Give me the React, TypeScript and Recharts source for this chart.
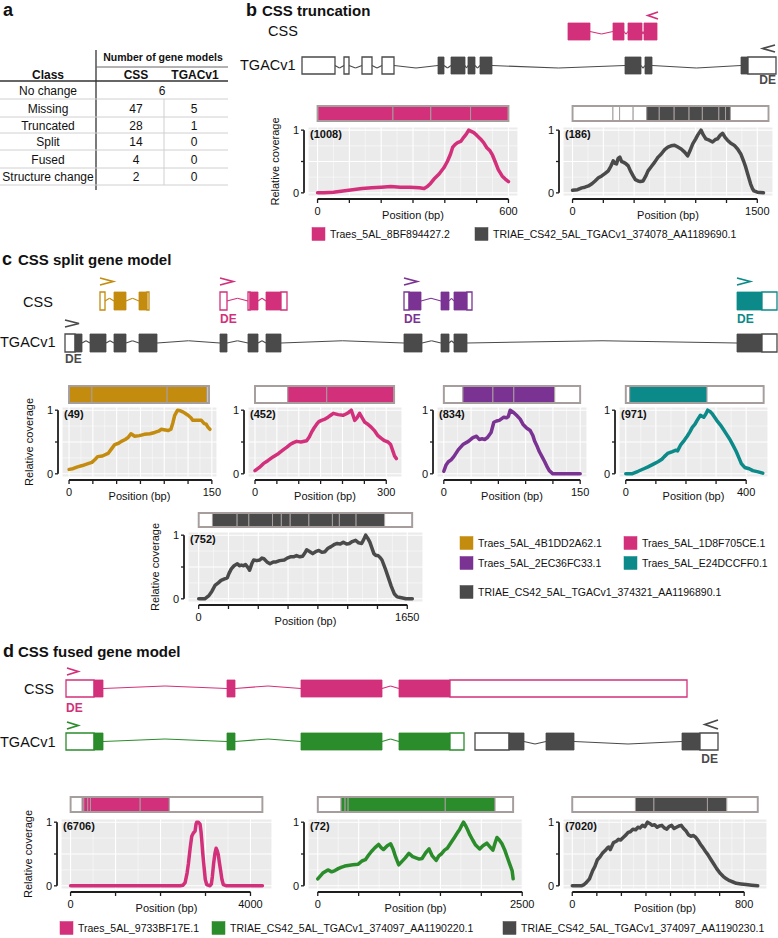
import React from 'react';
import { LineChart, Line, XAxis, YAxis, CartesianGrid, ReferenceLine, ReferenceArea } from 'recharts';

const FONT = '"Liberation Sans", Arial, Helvetica, sans-serif';
const PINK = '#D3307B';
const GOLD = '#C48C0E';
const PURPLE = '#7B3393';
const TEAL = '#0B8A89';
const GREY = '#4A4A4A';
const GREEN = '#2B8C2B';
const BAR_EDGE = '#A69D9D';
const AXIS = '#1E1E1E';

type Pt = [number, number];
type Seg = [number, number, number];

// ---------- panel a table ----------
const tableClasses = ['No change', 'Missing', 'Truncated', 'Split', 'Fused', 'Structure change'];
const tableCSS = ['6', '47', '28', '14', '4', '2'];
const tableTGAC = ['', '5', '1', '0', '0', '0'];

// ---------- coverage profiles (position bp, relative coverage) ----------
const covTruncCSS: Pt[] = [[0,0],[20,0],[50,0.01],[80,0.03],[110,0.05],[140,0.07],[170,0.08],[200,0.09],[230,0.1],[260,0.09],[290,0.09],[320,0.08],[335,0.07],[345,0.1],[355,0.15],[366,0.22],[382,0.3],[397,0.4],[408,0.5],[418,0.62],[425,0.73],[432,0.77],[440,0.8],[450,0.82],[460,0.89],[468,0.94],[475,1.0],[483,0.98],[491,0.96],[500,0.92],[512,0.86],[522,0.8],[532,0.72],[542,0.67],[550,0.6],[558,0.5],[568,0.37],[580,0.27],[590,0.22],[600,0.18]];
const covTruncTGAC: Pt[] = [[0,0.04],[40,0.05],[75,0.08],[100,0.09],[129,0.11],[160,0.15],[183,0.19],[210,0.24],[237,0.27],[265,0.31],[290,0.35],[310,0.42],[330,0.51],[345,0.47],[357,0.46],[370,0.55],[384,0.57],[398,0.5],[411,0.49],[430,0.47],[452,0.43],[470,0.35],[492,0.27],[510,0.21],[532,0.19],[550,0.18],[573,0.19],[595,0.27],[613,0.35],[640,0.42],[667,0.49],[695,0.57],[720,0.62],[748,0.69],[774,0.73],[800,0.75],[828,0.76],[855,0.73],[882,0.7],[910,0.65],[935,0.59],[955,0.68],[976,0.78],[1000,0.86],[1016,0.92],[1043,1.0],[1063,0.92],[1083,0.86],[1110,0.84],[1137,0.81],[1160,0.85],[1177,0.86],[1200,0.92],[1218,0.95],[1240,0.88],[1258,0.84],[1285,0.79],[1312,0.76],[1340,0.7],[1366,0.62],[1390,0.5],[1406,0.41],[1425,0.28],[1446,0.14],[1460,0.07],[1473,0.03],[1500,0.01],[1550,0]];
const covSplitGold: Pt[] = [[0,0.07],[4,0.08],[9,0.11],[14,0.13],[20,0.16],[24,0.18],[27,0.22],[30,0.27],[35,0.28],[41,0.32],[45,0.4],[48,0.46],[52,0.48],[55,0.51],[59,0.54],[62,0.57],[65,0.63],[69,0.59],[74,0.6],[79,0.62],[85,0.63],[90,0.65],[94,0.67],[97,0.7],[101,0.69],[104,0.68],[107,0.7],[109,0.8],[111,0.92],[114,1.0],[117,0.99],[120,0.97],[123,0.94],[125,0.92],[128,0.88],[130,0.84],[135,0.84],[139,0.84],[142,0.79],[144,0.78],[146,0.73],[148,0.7]];
const covSplitPink: Pt[] = [[0,0.05],[10,0.1],[19,0.16],[30,0.21],[42,0.27],[54,0.32],[65,0.38],[73,0.42],[80,0.46],[88,0.49],[95,0.51],[105,0.5],[118,0.52],[124,0.58],[129,0.65],[135,0.72],[141,0.78],[146,0.82],[152,0.84],[160,0.86],[167,0.89],[173,0.92],[179,0.95],[190,0.93],[201,0.92],[208,0.94],[213,0.96],[217,0.98],[220,1.0],[224,0.92],[228,0.84],[233,0.88],[239,0.95],[245,0.88],[251,0.81],[258,0.78],[266,0.73],[274,0.67],[281,0.6],[288,0.56],[296,0.52],[304,0.5],[310,0.46],[315,0.36],[319,0.28],[323,0.24]];
const covSplitPurple: Pt[] = [[0,0.04],[2.5,0.14],[5,0.19],[8,0.22],[11,0.27],[16,0.38],[21,0.46],[27,0.51],[32,0.57],[36,0.59],[39,0.54],[42,0.55],[45,0.54],[48,0.57],[52,0.65],[55,0.81],[58,0.83],[61,0.84],[66,0.89],[69,0.88],[71,0.9],[73,1.0],[77,0.96],[80,0.92],[84,0.86],[87,0.78],[91,0.72],[95,0.68],[98,0.6],[100,0.51],[103,0.42],[105,0.35],[108,0.27],[111,0.19],[114,0.1],[116,0.05],[120,0],[135,0],[150,0]];
const covSplitTeal: Pt[] = [[0,0],[20,0],[41,0.04],[60,0.08],[74,0.11],[95,0.16],[107,0.19],[120,0.23],[128,0.27],[139,0.32],[155,0.35],[165,0.37],[172,0.36],[183,0.46],[195,0.53],[204,0.59],[213,0.66],[221,0.73],[230,0.78],[237,0.84],[248,0.92],[259,0.89],[266,0.94],[272,1.0],[280,0.98],[286,0.95],[302,0.84],[314,0.77],[324,0.7],[335,0.62],[346,0.54],[356,0.45],[367,0.35],[376,0.25],[384,0.16],[395,0.1],[410,0.08],[422,0.05],[440,0.03],[455,0.01]];
const covSplitTGAC: Pt[] = [[0,0],[48,0],[81,0.05],[105,0.12],[129,0.21],[155,0.25],[177,0.29],[200,0.31],[226,0.33],[240,0.4],[258,0.47],[280,0.52],[306,0.55],[322,0.52],[338,0.53],[355,0.52],[371,0.54],[390,0.49],[403,0.45],[420,0.55],[435,0.61],[460,0.6],[483,0.61],[500,0.64],[516,0.63],[540,0.58],[564,0.55],[590,0.58],[612,0.58],[640,0.6],[677,0.61],[700,0.64],[725,0.66],[750,0.66],[774,0.68],[800,0.66],[822,0.67],[840,0.72],[854,0.77],[880,0.74],[902,0.71],[925,0.74],[951,0.76],[975,0.73],[999,0.74],[1020,0.79],[1047,0.82],[1070,0.85],[1096,0.87],[1120,0.86],[1144,0.89],[1170,0.86],[1192,0.87],[1215,0.9],[1241,0.92],[1265,0.88],[1289,0.87],[1305,0.93],[1321,1.0],[1338,0.95],[1354,0.89],[1370,0.8],[1386,0.71],[1402,0.68],[1418,0.68],[1435,0.65],[1450,0.61],[1475,0.48],[1499,0.34],[1523,0.2],[1547,0.08],[1570,0.03],[1595,0.02],[1640,0],[1690,0]];
const covFusedCSS: Pt[] = [[0,0],[500,0],[1000,0],[1500,0],[2000,0],[2435,0],[2500,0.01],[2546,0.05],[2590,0.2],[2620,0.35],[2660,0.6],[2694,0.78],[2730,0.83],[2768,0.86],[2790,0.97],[2804,1.0],[2840,1.0],[2878,0.97],[2900,0.85],[2915,0.73],[2940,0.5],[2967,0.3],[2995,0.1],[3026,0.02],[3100,0],[3130,0.03],[3151,0.14],[3180,0.35],[3210,0.51],[3235,0.59],[3260,0.55],[3284,0.49],[3310,0.36],[3336,0.24],[3365,0.1],[3395,0.02],[3469,0],[3800,0],[4265,0]];
const covFusedTGAC: Pt[] = [[0,0.11],[62,0.2],[124,0.25],[170,0.22],[210,0.24],[250,0.27],[285,0.29],[330,0.31],[371,0.32],[430,0.33],[495,0.34],[540,0.39],[582,0.41],[620,0.48],[656,0.54],[700,0.6],[743,0.65],[775,0.6],[804,0.57],[850,0.63],[891,0.66],[920,0.58],[953,0.45],[990,0.33],[1027,0.38],[1070,0.44],[1114,0.51],[1160,0.46],[1200,0.44],[1240,0.42],[1275,0.43],[1320,0.52],[1361,0.58],[1400,0.47],[1448,0.4],[1480,0.47],[1510,0.5],[1550,0.56],[1584,0.59],[1630,0.68],[1671,0.76],[1710,0.84],[1733,0.88],[1760,0.95],[1782,1.0],[1810,0.94],[1832,0.88],[1860,0.8],[1894,0.72],[1930,0.64],[1980,0.58],[2020,0.63],[2067,0.67],[2100,0.62],[2141,0.56],[2170,0.68],[2191,0.76],[2220,0.72],[2252,0.66],[2290,0.55],[2314,0.46],[2345,0.35],[2376,0.24],[2389,0.11]];
const covFusedGrey: Pt[] = [[0,0],[42,0],[55,0.02],[65,0.05],[80,0.11],[95,0.24],[105,0.3],[117,0.41],[130,0.46],[140,0.51],[152,0.55],[162,0.59],[170,0.61],[177,0.57],[185,0.63],[192,0.68],[205,0.7],[215,0.73],[225,0.72],[237,0.76],[250,0.8],[260,0.84],[270,0.85],[282,0.89],[295,0.88],[305,0.92],[315,0.91],[327,0.95],[338,0.93],[350,1.0],[360,0.98],[372,0.95],[383,0.96],[395,0.92],[405,0.94],[417,0.95],[428,0.91],[440,0.89],[450,0.93],[462,0.95],[474,0.9],[485,0.92],[496,0.94],[507,0.95],[518,0.9],[530,0.86],[541,0.8],[552,0.78],[564,0.79],[575,0.76],[586,0.71],[597,0.65],[608,0.6],[620,0.54],[631,0.49],[642,0.43],[657,0.35],[672,0.27],[687,0.2],[702,0.15],[717,0.11],[732,0.08],[748,0.06],[763,0.04],[785,0.03],[808,0.02],[835,0.01],[863,0]];

// ---------- x-axis breaks ----------
const ticksTruncCSS = [0, 100, 200, 300, 400, 500, 600];
const ticksTruncTGAC = [0, 250, 500, 750, 1000, 1250, 1500];
const ticksGold = [0, 25, 50, 75, 100, 125, 150];
const ticksPink = [0, 50, 100, 150, 200, 250, 300];
const ticksPurple = [0, 30, 60, 90, 120, 150];
const ticksTeal = [0, 100, 200, 300, 400];
const ticksSplitTGAC = [0, 235.7, 471.4, 707.1, 942.9, 1178.6, 1414.3, 1650];
const ticksFusedCSS = [0, 1000, 2000, 3000, 4000];
const ticksFusedTGAC = [0, 500, 1000, 1500, 2000, 2500];
const ticksFusedGrey = [0, 114.3, 228.6, 342.9, 457.1, 571.4, 685.7, 800];

// ---------- exon structure bars above the profiles (start, end, coding) ----------
const barTruncCSS: Seg[] = [[0,237,1],[237,356,1],[356,481,1],[481,600,1]];
const barTruncTGAC: Seg[] = [[0,328,0],[328,382,0],[382,492,0],[492,602,0],[602,704,1],[704,825,1],[825,946,1],[946,1054,1],[1054,1188,1],[1188,1242,1],[1242,1282,1],[1282,1591,0]];
const barGold: Seg[] = [[0,24,1],[24,103,1],[103,145,1],[145,147,0]];
const barPink: Seg[] = [[0,75,0],[75,164,1],[164,318,1]];
const barPurple: Seg[] = [[0,21,0],[21,54,1],[54,77,1],[77,122,1],[122,150,0]];
const barTeal: Seg[] = [[0,13,0],[13,270,1],[270,458,0]];
const barSplitTGAC: Seg[] = [[0,109,0],[109,304,1],[304,397,1],[397,584,1],[584,654,1],[654,724,1],[724,872,1],[872,1058,1],[1058,1113,1],[1113,1245,1],[1245,1471,1],[1471,1689,0]];
const barFusedCSS: Seg[] = [[0,258,0],[258,294,1],[294,382,1],[382,442,1],[442,1547,1],[1547,2195,1],[2195,4265,0]];
const barFusedTGAC: Seg[] = [[0,285,0],[285,334,1],[334,371,1],[371,1559,1],[1559,2168,1],[2168,2389,0]];
const barFusedGrey: Seg[] = [[0,294,0],[294,380,1],[380,629,1],[629,719,1],[719,863,0]];

// ---------- gene models (locus position, relative units; 1 = coding, 0 = UTR) ----------
const geneB_CSS: Seg[] = [[266,288,1],[311,322,1],[326,340,1],[342,355,1]];
const geneB_TGAC: Seg[] = [[0,33,0],[42,47,0],[60,70,0],[80,92,0],[136,142,1],[149,163,1],[166,173,1],[178,190,1],[323,339,1],[343,350,1],[439,446,1],[446,474,0]];
const geneC_TGAC: Seg[] = [[0,10,0],[10,17,1],[25,41,1],[49,61,1],[74,92,1],[155,162,1],[183,193,1],[201,216,1],[339,357,1],[376,384,1],[389,402,1],[672,697,1],[697,712,0]];
const geneC_Gold: Seg[] = [[35,40,0],[49,61,1],[74,82,1],[82,84,0]];
const geneC_Pink: Seg[] = [[155,162,0],[183,185,0],[185,193,1],[201,216,1],[216,222,0]];
const geneC_Purple: Seg[] = [[339,344,0],[344,356,1],[376,384,1],[389,402,1],[402,407,0]];
const geneC_Teal: Seg[] = [[672,697,1],[697,712,0]];
const geneD_CSS: Seg[] = [[0,28,0],[28,37,1],[161,169,1],[235,316,1],[333,384,1],[384,621,0]];
const geneD_Green: Seg[] = [[0,28,0],[28,37,1],[161,169,1],[235,316,1],[333,384,1],[384,398,0]];
const geneD_Grey: Seg[] = [[409,443,0],[443,458,1],[480,508,1],[616,634,1],[634,652,0]];

// ---------- legends ----------
const legendB = [
  { name: 'Traes_5AL_8BF894427.2', color: PINK },
  { name: 'TRIAE_CS42_5AL_TGACv1_374078_AA1189690.1', color: GREY },
];
const legendC = [
  { name: 'Traes_5AL_4B1DD2A62.1', color: GOLD },
  { name: 'Traes_5AL_1D8F705CE.1', color: PINK },
  { name: 'Traes_5AL_2EC36FC33.1', color: PURPLE },
  { name: 'Traes_5AL_E24DCCFF0.1', color: TEAL },
  { name: 'TRIAE_CS42_5AL_TGACv1_374321_AA1196890.1', color: GREY },
];
const legendD = [
  { name: 'Traes_5AL_9733BF17E.1', color: PINK },
  { name: 'TRIAE_CS42_5AL_TGACv1_374097_AA1190220.1', color: GREEN },
  { name: 'TRIAE_CS42_5AL_TGACv1_374097_AA1190230.1', color: GREY },
];

interface PlotSpec {
  bgL: number; bgR: number; bgT: number; bgB: number;
  dmax: number; ticks: number[]; color: string; data: Pt[]; count: string;
  bar: Seg[]; barT: number; barB: number; yTitle?: boolean;
}

const plots: PlotSpec[] = [
  { bgL: 308, bgR: 518, bgT: 127, bgB: 196, dmax: 600, ticks: ticksTruncCSS, color: PINK, data: covTruncCSS, count: '(1008)', bar: barTruncCSS, barT: 106, barB: 121, yTitle: true },
  { bgL: 563, bgR: 773, bgT: 127, bgB: 196, dmax: 1550, ticks: ticksTruncTGAC, color: GREY, data: covTruncTGAC, count: '(186)', bar: barTruncTGAC, barT: 106, barB: 121 },
  { bgL: 62, bgR: 217, bgT: 407, bgB: 477, dmax: 148, ticks: ticksGold, color: GOLD, data: covSplitGold, count: '(49)', bar: barGold, barT: 386, barB: 403, yTitle: true },
  { bgL: 248, bgR: 402, bgT: 407, bgB: 477, dmax: 320, ticks: ticksPink, color: PINK, data: covSplitPink, count: '(452)', bar: barPink, barT: 386, barB: 403 },
  { bgL: 437, bgR: 587, bgT: 407, bgB: 477, dmax: 150, ticks: ticksPurple, color: PURPLE, data: covSplitPurple, count: '(834)', bar: barPurple, barT: 386, barB: 403 },
  { bgL: 619, bgR: 768, bgT: 407, bgB: 477, dmax: 450, ticks: ticksTeal, color: TEAL, data: covSplitTeal, count: '(971)', bar: barTeal, barT: 386, barB: 403 },
  { bgL: 188, bgR: 423, bgT: 532, bgB: 602, dmax: 1690, ticks: ticksSplitTGAC, color: GREY, data: covSplitTGAC, count: '(752)', bar: barSplitTGAC, barT: 513, barB: 527, yTitle: true },
  { bgL: 61, bgR: 272, bgT: 819, bgB: 889, dmax: 4265, ticks: ticksFusedCSS, color: PINK, data: covFusedCSS, count: '(6706)', bar: barFusedCSS, barT: 797, barB: 812, yTitle: true },
  { bgL: 308, bgR: 523, bgT: 819, bgB: 889, dmax: 2390, ticks: ticksFusedTGAC, color: GREEN, data: covFusedTGAC, count: '(72)', bar: barFusedTGAC, barT: 797, barB: 812 },
  { bgL: 563, bgR: 767, bgT: 819, bgB: 889, dmax: 863, ticks: ticksFusedGrey, color: GREY, data: covFusedGrey, count: '(7020)', bar: barFusedGrey, barT: 797, barB: 812 },
];

const ML = 40, MR = 22, MT = 4, XH = 28;

function makeXTick(n: number) {
  return (p: any) => {
    const { x, y, payload, index } = p;
    const show = index === 0 || index === n - 1;
    return (
      <g>
        <line x1={x} x2={x} y1={y + 3} y2={y + 7} stroke={AXIS} strokeWidth={1.3} />
        {show && (
          <text x={x} y={y + 19} textAnchor="middle" fontSize={11} fontFamily={FONT} fill="#111">
            {String(Math.round(payload.value))}
          </text>
        )}
      </g>
    );
  };
}

const yTick = (p: any) => {
  const { x, y, payload } = p;
  const v = payload.value;
  return (
    <g>
      <line x1={x - 7} x2={x - 4} y1={y} y2={y} stroke={AXIS} strokeWidth={1.3} />
      {(v === 0 || v === 1) && (
        <text x={x - 9} y={y + 4} textAnchor="end" fontSize={11} fontFamily={FONT} fill="#111">{String(v)}</text>
      )}
    </g>
  );
};

function CoveragePanel({ s }: { s: PlotSpec }) {
  const pw = s.bgR - s.bgL;
  const ph = s.bgB - s.bgT;
  const d0 = -0.05 * s.dmax;
  const d1 = 1.05 * s.dmax;
  const pxX = pw / (d1 - d0);
  const pxY = ph / 1.1;
  const yAxisX = d0 - 4 / pxX;
  const xAxisY = -0.05 - 3 / pxY;
  const lastTick = s.ticks[s.ticks.length - 1];
  const minorX = s.ticks.slice(1).map((t, i) => (t + s.ticks[i]) / 2);
  const data = s.data.map(([x, y]) => ({ x, y }));
  const barEnd = s.bar[s.bar.length - 1][1];
  return (
    <>
      <div style={{ position: 'absolute', left: s.bgL - ML, top: s.barT - 3 }}>
        <LineChart width={pw + ML + MR} height={s.barB - s.barT + 6} margin={{ top: 3, right: MR, bottom: 3, left: ML }} data={[{ x: 0, y: 0 }]}>
          <XAxis type="number" dataKey="x" domain={[d0, d1]} hide allowDataOverflow />
          <YAxis type="number" domain={[0, 1]} hide allowDataOverflow />
          {s.bar.map((b, i) => (
            <ReferenceArea key={i} x1={b[0]} x2={b[1]} y1={0} y2={1} fill={b[2] ? s.color : '#FFFFFF'} fillOpacity={1} stroke={BAR_EDGE} strokeWidth={1} ifOverflow="visible" />
          ))}
          <ReferenceArea x1={s.bar[0][0]} x2={barEnd} y1={0} y2={1} fill="none" fillOpacity={0} stroke={BAR_EDGE} strokeWidth={1.9} ifOverflow="visible" />
        </LineChart>
      </div>
      <div style={{ position: 'absolute', left: s.bgL - ML, top: s.bgT - MT }}>
        <LineChart width={pw + ML + MR} height={ph + MT + XH} margin={{ top: MT, right: MR, bottom: 0, left: 0 }} data={data}>
          <CartesianGrid fill="#EBEBEB" stroke="#FFFFFF" strokeWidth={1.1} />
          <CartesianGrid fill="none" stroke="#FFFFFF" strokeWidth={0.5} verticalValues={minorX} horizontalValues={[0.25, 0.75]} />
          <XAxis type="number" dataKey="x" domain={[d0, d1]} allowDataOverflow ticks={s.ticks} interval={0} height={XH}
            tickLine={false} axisLine={false} tickSize={0} tickMargin={0} tick={makeXTick(s.ticks.length)} />
          <YAxis type="number" domain={[-0.05, 1.05]} allowDataOverflow ticks={[0, 0.5, 1]} interval={0} width={ML}
            tickLine={false} axisLine={false} tickSize={0} tickMargin={0} tick={yTick} />
          <ReferenceLine segment={[{ x: yAxisX, y: 0 }, { x: yAxisX, y: 1 }]} stroke={AXIS} strokeWidth={1.8} ifOverflow="visible" />
          <ReferenceLine segment={[{ x: 0, y: xAxisY }, { x: lastTick, y: xAxisY }]} stroke={AXIS} strokeWidth={1.8} ifOverflow="visible" />
          <Line type="linear" dataKey="y" stroke={s.color} strokeWidth={3.5} dot={false} isAnimationActive={false}
            strokeLinejoin="round" strokeLinecap="round" />
        </LineChart>
      </div>
    </>
  );
}

interface Track { exons: Seg[]; color: string; bend: number }

function GeneRow({ left, top, width, height, tracks }: { left: number; top: number; width: number; height: number; tracks: Track[] }) {
  const pad = 2;
  const introns: React.ReactNode[] = [];
  tracks.forEach((t, ti) => {
    for (let i = 0; i < t.exons.length - 1; i++) {
      const a = t.exons[i][1];
      const b = t.exons[i + 1][0];
      if (b - a > 0.5) {
        const m = (a + b) / 2;
        introns.push(<ReferenceLine key={`i${ti}-${i}a`} segment={[{ x: a, y: 0 }, { x: m, y: t.bend }]} stroke={t.color} strokeWidth={1.1} ifOverflow="visible" />);
        introns.push(<ReferenceLine key={`i${ti}-${i}b`} segment={[{ x: m, y: t.bend }, { x: b, y: 0 }]} stroke={t.color} strokeWidth={1.1} ifOverflow="visible" />);
      }
    }
  });
  return (
    <div style={{ position: 'absolute', left: left - pad, top: top - pad }}>
      <LineChart width={width + 2 * pad} height={height + 2 * pad} margin={{ top: pad, right: pad, bottom: pad, left: pad }} data={[{ x: 0, y: 0 }]}>
        <XAxis type="number" dataKey="x" domain={[0, width]} hide allowDataOverflow />
        <YAxis type="number" domain={[-1, 1]} hide allowDataOverflow />
        {introns}
        {tracks.map((t, ti) =>
          t.exons.map((e, i) => (
            <ReferenceArea key={`e${ti}-${i}`} x1={e[0]} x2={e[1]} y1={-1} y2={1} fill={e[2] ? t.color : '#FFFFFF'} fillOpacity={1}
              stroke={t.color} strokeWidth={e[2] ? 0.8 : 1.3} ifOverflow="visible" />
          ))
        )}
      </LineChart>
    </div>
  );
}

const Txt = ({ x, y, children, size = 11, bold = false, anchor = 'start', fill = '#111', rotate }: any) => (
  <text x={x} y={y} fontSize={size} fontWeight={bold ? 'bold' : 'normal'} textAnchor={anchor} fill={fill} fontFamily={FONT}
    transform={rotate ? `rotate(${rotate} ${x} ${y})` : undefined}>{children}</text>
);

const Chev = ({ x, y, w, h, dir, color }: any) => {
  const pts = dir === 'r' ? `${x},${y} ${x + w},${y + h / 2} ${x},${y + h}` : `${x + w},${y} ${x},${y + h / 2} ${x + w},${y + h}`;
  return <polyline points={pts} fill="none" stroke={color} strokeWidth={1.8} />;
};

const LegendItem = ({ x, y, name, color }: any) => (
  <g>
    <rect x={x} y={y - 6.5} width={13} height={13} fill={color} stroke={color} strokeWidth={0.5} />
    <Txt x={x + 18} y={y + 4} size={10.5}>{name}</Txt>
  </g>
);

export default function App() {
  const rowCenters = [90, 108, 125, 141.5, 159, 176.5];
  const rowLines = [99, 117, 133, 150, 168, 185];
  return (
    <div style={{ position: 'absolute', left: 0, top: 0, width: 778, height: 938, background: '#FFFFFF', overflow: 'hidden', fontFamily: FONT }}>
      {/* gene models */}
      <GeneRow left={302} top={23} width={476} height={17} tracks={[{ exons: geneB_CSS, color: PINK, bend: -0.3 }]} />
      <GeneRow left={302} top={56.5} width={476} height={17} tracks={[{ exons: geneB_TGAC, color: GREY, bend: -0.3 }]} />
      <GeneRow left={65} top={292} width={712} height={18} tracks={[
        { exons: geneC_Gold, color: GOLD, bend: 0.3 },
        { exons: geneC_Pink, color: PINK, bend: 0.3 },
        { exons: geneC_Purple, color: PURPLE, bend: 0.3 },
        { exons: geneC_Teal, color: TEAL, bend: 0.3 },
      ]} />
      <GeneRow left={65} top={333.5} width={712} height={18} tracks={[{ exons: geneC_TGAC, color: GREY, bend: 0.25 }]} />
      <GeneRow left={66} top={680} width={652} height={17} tracks={[{ exons: geneD_CSS, color: PINK, bend: 0.3 }]} />
      <GeneRow left={66} top={733} width={652} height={17} tracks={[
        { exons: geneD_Green, color: GREEN, bend: 0.3 },
        { exons: geneD_Grey, color: GREY, bend: -0.3 },
      ]} />

      {/* coverage profiles */}
      {plots.map((s, i) => <CoveragePanel key={i} s={s} />)}

      <svg width={778} height={938} style={{ position: 'absolute', left: 0, top: 0, pointerEvents: 'none' }}>
        {/* panel a */}
        <Txt x={3} y={16} size={18} bold>a</Txt>
        <line x1={96} x2={96} y1={50} y2={190} stroke="#333" strokeWidth={1.3} />
        <line x1={96} x2={228} y1={67} y2={67} stroke="#666" strokeWidth={1} />
        <line x1={0} x2={228} y1={81} y2={81} stroke="#333" strokeWidth={1.5} />
        {rowLines.map((y, i) => <line key={i} x1={0} x2={228} y1={y} y2={y} stroke="#D0D0D0" strokeWidth={1} />)}
        <line x1={164} x2={164} y1={99} y2={185} stroke="#D0D0D0" strokeWidth={1} />
        <Txt x={163} y={61} size={10.5} bold anchor="middle">Number of gene models</Txt>
        <Txt x={48} y={78.5} size={12} bold anchor="middle">Class</Txt>
        <Txt x={136} y={78.5} size={12} bold anchor="middle">CSS</Txt>
        <Txt x={195} y={78.5} size={12} bold anchor="middle">TGACv1</Txt>
        {tableClasses.map((c, i) => (
          <g key={c}>
            <Txt x={48} y={rowCenters[i] + 4.5} size={12} anchor="middle">{c}</Txt>
            {tableTGAC[i] === '' ? (
              <Txt x={162} y={rowCenters[i] + 4.5} size={12} anchor="middle">{tableCSS[i]}</Txt>
            ) : (
              <>
                <Txt x={136} y={rowCenters[i] + 4.5} size={12} anchor="middle">{tableCSS[i]}</Txt>
                <Txt x={194} y={rowCenters[i] + 4.5} size={12} anchor="middle">{tableTGAC[i]}</Txt>
              </>
            )}
          </g>
        ))}

        {/* panel b */}
        <Txt x={246} y={16} size={18} bold>b</Txt>
        <Txt x={262} y={16} size={15} bold>CSS truncation</Txt>
        <Txt x={268} y={36} size={14.5}>CSS</Txt>
        <Txt x={240} y={70} size={14.5}>TGACv1</Txt>
        <Chev x={648} y={12} w={10} h={7} dir="l" color={PINK} />
        <Chev x={763} y={45} w={12} h={7} dir="l" color={GREY} />
        <Txt x={776} y={84} size={12} bold anchor="end" fill={GREY}>DE</Txt>

        {/* panel c */}
        <Txt x={2} y={265} size={18} bold>c</Txt>
        <Txt x={18} y={265} size={15} bold>CSS split gene model</Txt>
        <Txt x={23} y={306.5} size={14.5}>CSS</Txt>
        <Txt x={0} y={347} size={14.5}>TGACv1</Txt>
        <Chev x={100} y={278} w={13} h={7} dir="r" color={GOLD} />
        <Chev x={220} y={278} w={13} h={7} dir="r" color={PINK} />
        <Chev x={404} y={278} w={13} h={7} dir="r" color={PURPLE} />
        <Chev x={737} y={278} w={13} h={7} dir="r" color={TEAL} />
        <Chev x={65} y={320} w={14} h={7} dir="r" color={GREY} />
        <Txt x={220} y={323} size={12} bold fill={PINK}>DE</Txt>
        <Txt x={404} y={323} size={12} bold fill={PURPLE}>DE</Txt>
        <Txt x={737} y={323} size={12} bold fill={TEAL}>DE</Txt>
        <Txt x={65} y={363} size={12} bold fill={GREY}>DE</Txt>

        {/* panel d */}
        <Txt x={3} y={657} size={18} bold>d</Txt>
        <Txt x={18} y={657} size={15} bold>CSS fused gene model</Txt>
        <Txt x={24} y={693.5} size={14.5}>CSS</Txt>
        <Txt x={0} y={746.5} size={14.5}>TGACv1</Txt>
        <Chev x={67} y={668} w={11} h={7} dir="r" color={PINK} />
        <Chev x={67} y={722} w={11} h={7} dir="r" color={GREEN} />
        <Chev x={705} y={720} w={13} h={9} dir="l" color={GREY} />
        <Txt x={66} y={712} size={12} bold fill={PINK}>DE</Txt>
        <Txt x={718} y={763} size={12} bold anchor="end" fill={GREY}>DE</Txt>

        {/* plot annotations */}
        {plots.map((s, i) => {
          const cy = (s.bgT + s.bgB) / 2;
          const cx = (s.bgL + s.bgR) / 2;
          return (
            <g key={i}>
              <Txt x={s.bgL + 2} y={s.bgT + 10.5} size={11} bold>{s.count}</Txt>
              <Txt x={cx} y={s.bgB + 23} size={11} anchor="middle">Position (bp)</Txt>
              {s.yTitle && <Txt x={s.bgL - 29} y={cy} size={11} anchor="middle" rotate={-90}>Relative coverage</Txt>}
            </g>
          );
        })}

        {/* legends */}
        <LegendItem x={312} y={234} name={legendB[0].name} color={legendB[0].color} />
        <LegendItem x={475} y={234} name={legendB[1].name} color={legendB[1].color} />
        <LegendItem x={460} y={543} name={legendC[0].name} color={legendC[0].color} />
        <LegendItem x={624} y={543} name={legendC[1].name} color={legendC[1].color} />
        <LegendItem x={460} y={563} name={legendC[2].name} color={legendC[2].color} />
        <LegendItem x={624} y={563} name={legendC[3].name} color={legendC[3].color} />
        <LegendItem x={460} y={592} name={legendC[4].name} color={legendC[4].color} />
        <LegendItem x={60} y={928} name={legendD[0].name} color={legendD[0].color} />
        <LegendItem x={212} y={928} name={legendD[1].name} color={legendD[1].color} />
        <LegendItem x={503} y={928} name={legendD[2].name} color={legendD[2].color} />
      </svg>
    </div>
  );
}
